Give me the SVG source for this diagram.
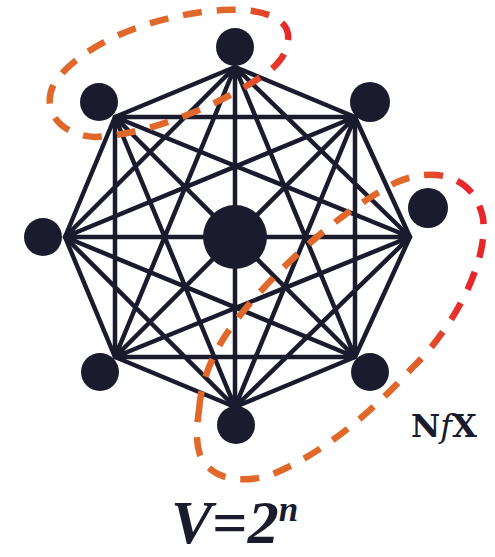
<svg xmlns="http://www.w3.org/2000/svg" width="495" height="557" viewBox="0 0 495 557">
<style>
.edge{fill:none;stroke:#1a1b2d;stroke-width:4.5;stroke-linecap:round;stroke-linejoin:round}
.node{fill:#1a1b2d}
.loop{fill:none;stroke-width:6.5;stroke-dasharray:19 15}
.nfx{font-family:"DejaVu Serif",serif;font-weight:bold;font-size:32px;fill:#1a1b2d}
.formula{font-family:"Liberation Serif","Times New Roman",serif;font-weight:bold;font-style:italic;fill:#1a1b2d}
</style>
<defs>
<linearGradient id="g1" gradientUnits="userSpaceOnUse" x1="230" y1="0" x2="290" y2="0">
<stop offset="0" stop-color="#e0682a"/><stop offset="1" stop-color="#e8262a"/>
</linearGradient>
<linearGradient id="g2" gradientUnits="userSpaceOnUse" x1="405" y1="0" x2="465" y2="0">
<stop offset="0" stop-color="#e0682a"/><stop offset="1" stop-color="#e8262a"/>
</linearGradient>
</defs>
<g id="connectors">
<path class="edge" d="M235,67L355,117L410,237L355,357L235,407L115,357L65,237L115,117Z"/>
<path class="edge" d="M235,67L410,237M235,67L355,357M235,67L235,407M235,67L115,357M235,67L65,237
M355,117L355,357M355,117L235,407M355,117L115,357M355,117L65,237M355,117L115,117
M410,237L235,407M410,237L115,357M410,237L65,237M410,237L115,117
M355,357L115,357M355,357L65,237M355,357L115,117
M235,407L65,237M235,407L115,117
M115,357L115,117"/>
</g>
<g id="node-center"><circle class="node" cx="235" cy="237" r="32"/></g>
<g id="node-top"><circle class="node" cx="235" cy="47" r="19"/></g>
<g id="node-upper-left"><circle class="node" cx="99" cy="102" r="19"/></g>
<g id="node-upper-right"><circle class="node" cx="370" cy="102" r="20"/></g>
<g id="node-left"><circle class="node" cx="43" cy="237" r="19"/></g>
<g id="node-right"><circle class="node" cx="428" cy="208" r="20"/></g>
<g id="node-lower-left"><circle class="node" cx="100" cy="372" r="19"/></g>
<g id="node-lower-right"><circle class="node" cx="370" cy="372" r="19"/></g>
<g id="node-bottom"><circle class="node" cx="236" cy="425" r="19"/></g>
<g id="loops">
<path class="loop" stroke="url(#g1)" d="M288,40C291,15 255,8 222,10C160,14 85,40 55,82C40,108 58,135 95,137C150,135 225,103 268,72C281,62 287,52 288,40Z"/>
<path class="loop" stroke="url(#g2)" d="M199,410C201,380 214,348 238,318C280,265 340,212 395,183C432,166 474,174 483,218C489,262 452,330 412,368C372,412 322,455 268,476C236,484 210,478 200,455C195,440 197,425 199,410Z"/>
</g>
<text class="nfx" x="411" y="437">N<tspan font-style="italic" font-weight="normal">f</tspan>X</text>
<text class="formula" x="171" y="543" font-size="62">V<tspan font-style="normal">=</tspan>2<tspan font-size="35" dy="-22">n</tspan></text>
</svg>
